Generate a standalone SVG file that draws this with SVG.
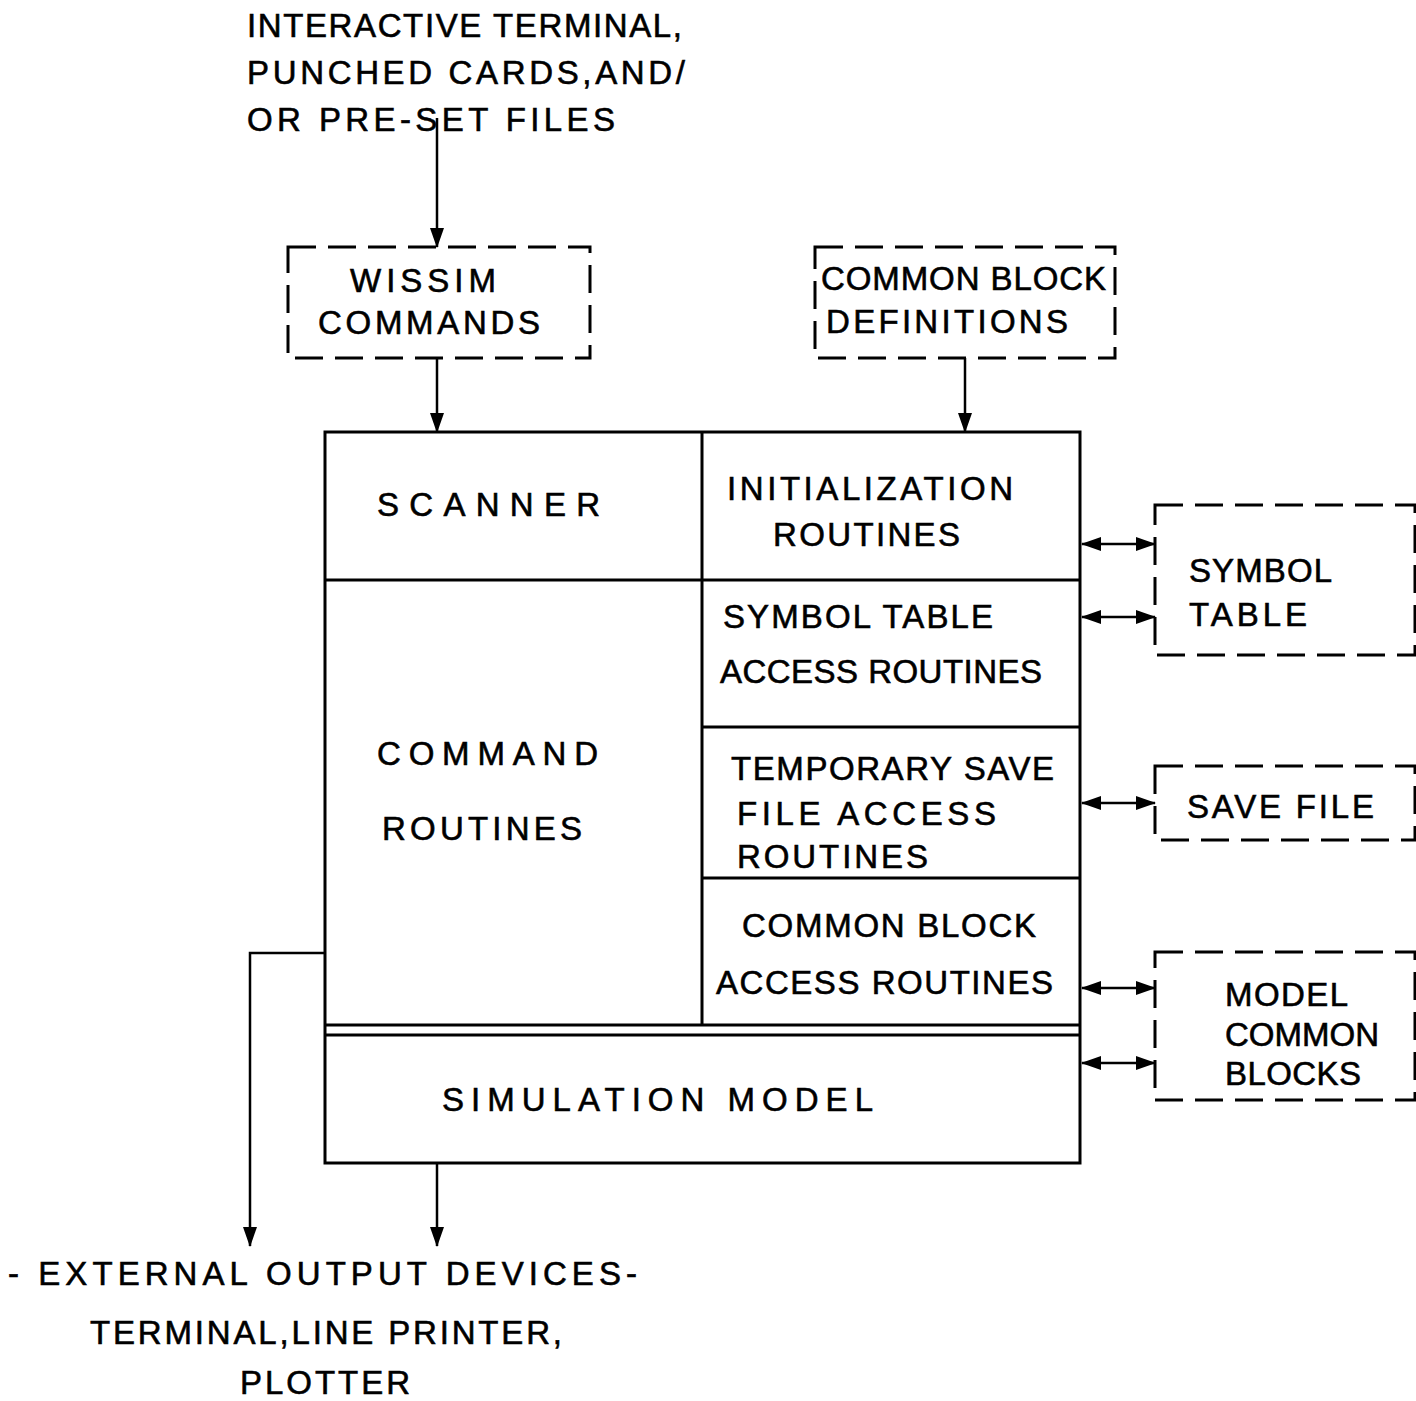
<svg xmlns="http://www.w3.org/2000/svg" width="1416" height="1401" viewBox="0 0 1416 1401">
<defs>
<marker id="ah" viewBox="0 0 20 14" refX="19" refY="7" markerWidth="20" markerHeight="14" markerUnits="userSpaceOnUse" orient="auto-start-reverse">
<path d="M0,0 L20,7 L0,14 z" fill="#000"/>
</marker>
<style>
.t{font-family:"Liberation Sans","DejaVu Sans",Arial,sans-serif;font-size:33px;fill:#000;stroke:#000;stroke-width:0.6;}
.box{fill:none;stroke:#000;stroke-width:3;}
.dash{fill:none;stroke:#000;stroke-width:3;stroke-dasharray:28 12;}
.arr{fill:none;stroke:#000;stroke-width:2.5;marker-end:url(#ah);}
.bi{fill:none;stroke:#000;stroke-width:2.5;marker-start:url(#ah);marker-end:url(#ah);}
</style>
</defs>
<rect width="1416" height="1401" fill="#fff"/>

<g id="input-label">
<text class="t" x="247" y="37" textLength="435" lengthAdjust="spacing">INTERACTIVE TERMINAL,</text>
<text class="t" x="247" y="84" textLength="438" lengthAdjust="spacing">PUNCHED CARDS,AND/</text>
<text class="t" x="247" y="131" textLength="368" lengthAdjust="spacing">OR PRE-SET FILES</text>
</g>

<g id="wissim-commands">
<rect class="dash" x="288" y="247" width="302" height="111"/>
<text class="t" x="350" y="292" textLength="146" lengthAdjust="spacing">WISSIM</text>
<text class="t" x="318" y="334" textLength="222" lengthAdjust="spacing">COMMANDS</text>
</g>

<g id="common-block-definitions">
<rect class="dash" x="815" y="247" width="300" height="111"/>
<text class="t" x="821" y="290" textLength="285" lengthAdjust="spacing">COMMON BLOCK</text>
<text class="t" x="826" y="333" textLength="242" lengthAdjust="spacing">DEFINITIONS</text>
</g>

<g id="main-system">
<rect class="box" x="325" y="432" width="755" height="731"/>
<line class="box" x1="702" y1="432" x2="702" y2="1025"/>
<line class="box" x1="325" y1="580" x2="1080" y2="580"/>
<line class="box" x1="702" y1="727" x2="1080" y2="727"/>
<line class="box" x1="702" y1="878" x2="1080" y2="878"/>
<line class="box" x1="325" y1="1025" x2="1080" y2="1025"/>
<line class="box" x1="325" y1="1035" x2="1080" y2="1035"/>
</g>

<g id="scanner">
<text class="t" x="377" y="516" textLength="223" lengthAdjust="spacing">SCANNER</text>
</g>
<g id="initialization-routines">
<text class="t" x="727" y="500" textLength="286" lengthAdjust="spacing">INITIALIZATION</text>
<text class="t" x="773" y="546" textLength="187" lengthAdjust="spacing">ROUTINES</text>
</g>
<g id="symbol-table-access">
<text class="t" x="723" y="628" textLength="270" lengthAdjust="spacing">SYMBOL TABLE</text>
<text class="t" x="720" y="683" textLength="322" lengthAdjust="spacing">ACCESS ROUTINES</text>
</g>
<g id="command-routines">
<text class="t" x="377" y="765" textLength="221" lengthAdjust="spacing">COMMAND</text>
<text class="t" x="382" y="840" textLength="200" lengthAdjust="spacing">ROUTINES</text>
</g>
<g id="temp-save-access">
<text class="t" x="731" y="780" textLength="323" lengthAdjust="spacing">TEMPORARY SAVE</text>
<text class="t" x="737" y="825" textLength="259" lengthAdjust="spacing">FILE ACCESS</text>
<text class="t" x="737" y="868" textLength="191" lengthAdjust="spacing">ROUTINES</text>
</g>
<g id="common-block-access">
<text class="t" x="742" y="937" textLength="294" lengthAdjust="spacing">COMMON BLOCK</text>
<text class="t" x="716" y="994" textLength="337" lengthAdjust="spacing">ACCESS ROUTINES</text>
</g>
<g id="simulation-model">
<text class="t" x="442" y="1111" textLength="431" lengthAdjust="spacing">SIMULATION MODEL</text>
</g>

<g id="symbol-table">
<rect class="dash" x="1155" y="505" width="260" height="150"/>
<text class="t" x="1189" y="582" textLength="143" lengthAdjust="spacing">SYMBOL</text>
<text class="t" x="1189" y="626" textLength="118" lengthAdjust="spacing">TABLE</text>
</g>
<g id="save-file">
<rect class="dash" x="1155" y="766" width="260" height="74"/>
<text class="t" x="1187" y="818" textLength="187" lengthAdjust="spacing">SAVE FILE</text>
</g>
<g id="model-common-blocks">
<rect class="dash" x="1155" y="952" width="260" height="148"/>
<text class="t" x="1225" y="1006" textLength="123" lengthAdjust="spacing">MODEL</text>
<text class="t" x="1225" y="1046">COMMON</text>
<text class="t" x="1225" y="1085" textLength="136" lengthAdjust="spacing">BLOCKS</text>
</g>

<g id="output-label">
<text class="t" x="8" y="1285" textLength="629" lengthAdjust="spacing">- EXTERNAL OUTPUT DEVICES-</text>
<text class="t" x="90" y="1344" textLength="472" lengthAdjust="spacing">TERMINAL,LINE PRINTER,</text>
<text class="t" x="240" y="1394" textLength="170" lengthAdjust="spacing">PLOTTER</text>
</g>

<g id="connectors">
<line class="arr" x1="437" y1="118" x2="437" y2="247"/>
<line class="arr" x1="437" y1="358" x2="437" y2="432"/>
<line class="arr" x1="965" y1="358" x2="965" y2="432"/>
<line class="bi" x1="1082" y1="544" x2="1155" y2="544"/>
<line class="bi" x1="1082" y1="617" x2="1155" y2="617"/>
<line class="bi" x1="1082" y1="803" x2="1155" y2="803"/>
<line class="bi" x1="1082" y1="988" x2="1155" y2="988"/>
<line class="bi" x1="1082" y1="1063" x2="1155" y2="1063"/>
<polyline class="arr" points="325,953 250,953 250,1246"/>
<line class="arr" x1="437" y1="1163" x2="437" y2="1246"/>
</g>
</svg>
